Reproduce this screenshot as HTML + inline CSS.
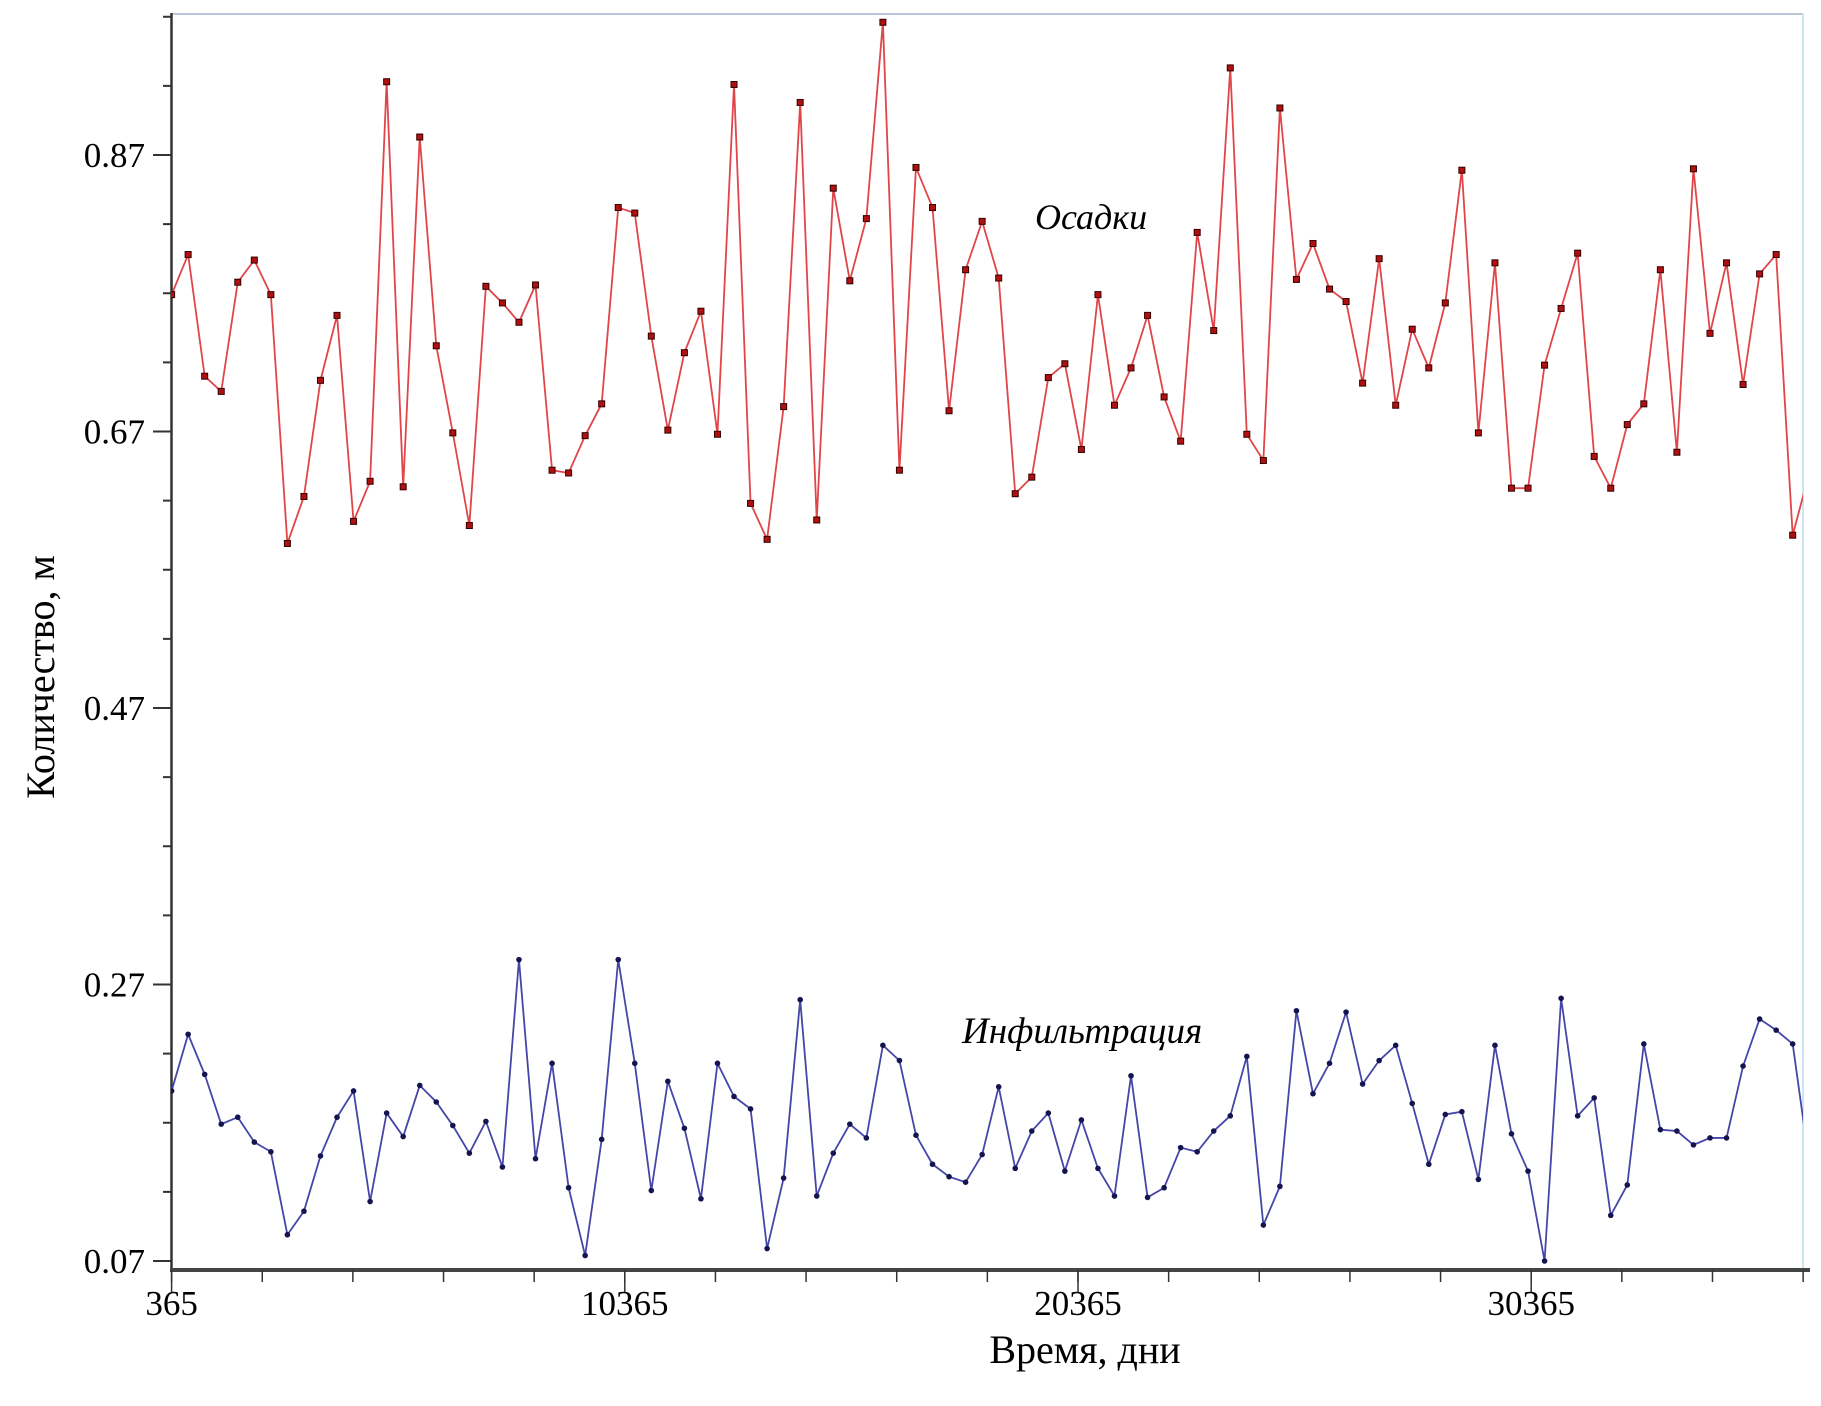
<!DOCTYPE html>
<html><head><meta charset="utf-8"><style>
html,body{margin:0;padding:0;background:#fff;}
svg{display:block;font-family:"Liberation Serif",serif;}
</style></head><body>
<svg id="chart" width="1821" height="1406" viewBox="0 0 1821 1406" xmlns="http://www.w3.org/2000/svg">
<defs><clipPath id="clip"><rect x="171" y="10" width="1632" height="1262"/></clipPath></defs>
<g id="axes"></g>
<g id="series" clip-path="url(#clip)"></g>
<text x="1035" y="229" font-size="36" font-style="italic">Осадки</text>
<text x="962" y="1043" font-size="37" font-style="italic">Инфильтрация</text>
<text x="1085" y="1363" font-size="40" text-anchor="middle">Время, дни</text>
<text x="0" y="0" font-size="40" text-anchor="middle" transform="translate(54,677) rotate(-90)">Количество, м</text>
</svg>
<script>
const yTickLabels = ["0.07","0.27","0.47","0.67","0.87"];
const yTickValues = [0.07,0.27,0.47,0.67,0.87];
const xTickLabels = ["365","10365","20365","30365"];
const xTickValues = [365,10365,20365,30365];
const precipitation = [0.769,0.798,0.710,0.699,0.778,0.794,0.769,0.589,0.623,0.707,0.754,0.605,0.634,0.923,0.630,0.883,0.732,0.669,0.602,0.775,0.763,0.749,0.776,0.642,0.640,0.667,0.690,0.832,0.828,0.739,0.671,0.727,0.757,0.668,0.921,0.618,0.592,0.688,0.908,0.606,0.846,0.779,0.824,0.966,0.642,0.861,0.832,0.685,0.787,0.822,0.781,0.625,0.637,0.709,0.719,0.657,0.769,0.689,0.716,0.754,0.695,0.663,0.814,0.743,0.933,0.668,0.649,0.904,0.780,0.806,0.773,0.764,0.705,0.795,0.689,0.744,0.716,0.763,0.859,0.669,0.792,0.629,0.629,0.718,0.759,0.799,0.652,0.629,0.675,0.690,0.787,0.655,0.860,0.741,0.792,0.704,0.784,0.798,0.595,0.640];
const infiltration = [0.193,0.234,0.205,0.169,0.174,0.156,0.149,0.089,0.106,0.146,0.174,0.193,0.113,0.177,0.160,0.197,0.185,0.168,0.148,0.171,0.138,0.288,0.144,0.213,0.123,0.074,0.158,0.288,0.213,0.121,0.200,0.166,0.115,0.213,0.189,0.180,0.079,0.130,0.259,0.117,0.148,0.169,0.159,0.226,0.215,0.161,0.140,0.131,0.127,0.147,0.196,0.137,0.164,0.177,0.135,0.172,0.137,0.117,0.204,0.116,0.123,0.152,0.149,0.164,0.175,0.218,0.096,0.124,0.251,0.191,0.213,0.250,0.198,0.215,0.226,0.184,0.140,0.176,0.178,0.129,0.226,0.162,0.135,0.070,0.260,0.175,0.188,0.103,0.125,0.227,0.165,0.164,0.154,0.159,0.159,0.211,0.245,0.237,0.227,0.141];

const NS="http://www.w3.org/2000/svg";
const X=d=>171.6+(d-365)*0.04532;
const Y=v=>155+(0.87-v)*(1106/0.8);
const axes=document.getElementById('axes');
const ser=document.getElementById('series');
function mk(tag,attrs,parent){const e=document.createElementNS(NS,tag);for(const k in attrs)e.setAttribute(k,attrs[k]);parent.appendChild(e);return e;}

let fr=mk('line',{x1:171,y1:14,x2:1803,y2:14,stroke:'#b8c8d8','stroke-width':2},axes);


fr=mk('line',{x1:1803,y1:14,x2:1803,y2:1270,stroke:'#cde6f5','stroke-width':2},axes);


let ax=mk('line',{x1:171.5,y1:13,x2:171.5,y2:1272,stroke:'#333','stroke-width':2.5},axes);


ax=mk('line',{x1:170,y1:1270,x2:1810,y2:1270,stroke:'#444','stroke-width':4},axes);



for(let v=0.07;v<=1.02;v+=0.05){const y=Y(v);if(y<10)break;
 const t=mk('line',{x1:163,y1:y,x2:171,y2:y,stroke:'#333','stroke-width':2},axes);
 
 }
yTickValues.forEach((v,i)=>{const y=Y(v);
 const t=mk('line',{x1:153,y1:y,x2:171,y2:y,stroke:'#333','stroke-width':2},axes);
 
 
 const l=mk('text',{x:145,y:y+12,'font-size':35,'text-anchor':'end'},axes);
 l.textContent=yTickLabels[i];
 
 });
for(let d=365;d<=36500;d+=2000){const x=X(d);if(x>1811)break;
 const t=mk('line',{x1:x,y1:1270,x2:x,y2:1282,stroke:'#333','stroke-width':1.5},axes);
 
 }
xTickValues.forEach((d,i)=>{const x=X(d);
 const t=mk('line',{x1:x,y1:1270,x2:x,y2:1293,stroke:'#333','stroke-width':1.5},axes);
 
 
 const l=mk('text',{x:x,y:1315,'font-size':35,'text-anchor':'middle'},axes);
 l.textContent=xTickLabels[i];
 
 });

function drawSeries(vals,color,mcolor,name,square){
 const pts=vals.map((v,i)=>[X(365*(i+1)),Y(v)]);
 const p=mk('polyline',{points:pts.map(p=>p.join(',')).join(' '),fill:'none',stroke:color,'stroke-width':1.8},ser);
 
 
 pts.forEach(([x,y])=>{let m;
  if(square){m=mk('rect',{x:x-3,y:y-3,width:6,height:6,fill:'#b01010',stroke:'#300','stroke-width':1},ser);}
  else{m=mk('circle',{cx:x,cy:y,r:2.8,fill:mcolor},ser);}
  
  });
}
drawSeries(precipitation,'#e0454a','#400',"precipitation",true);
drawSeries(infiltration,'#4646a8','#141450',"infiltration",false);
</script>
</body></html>
